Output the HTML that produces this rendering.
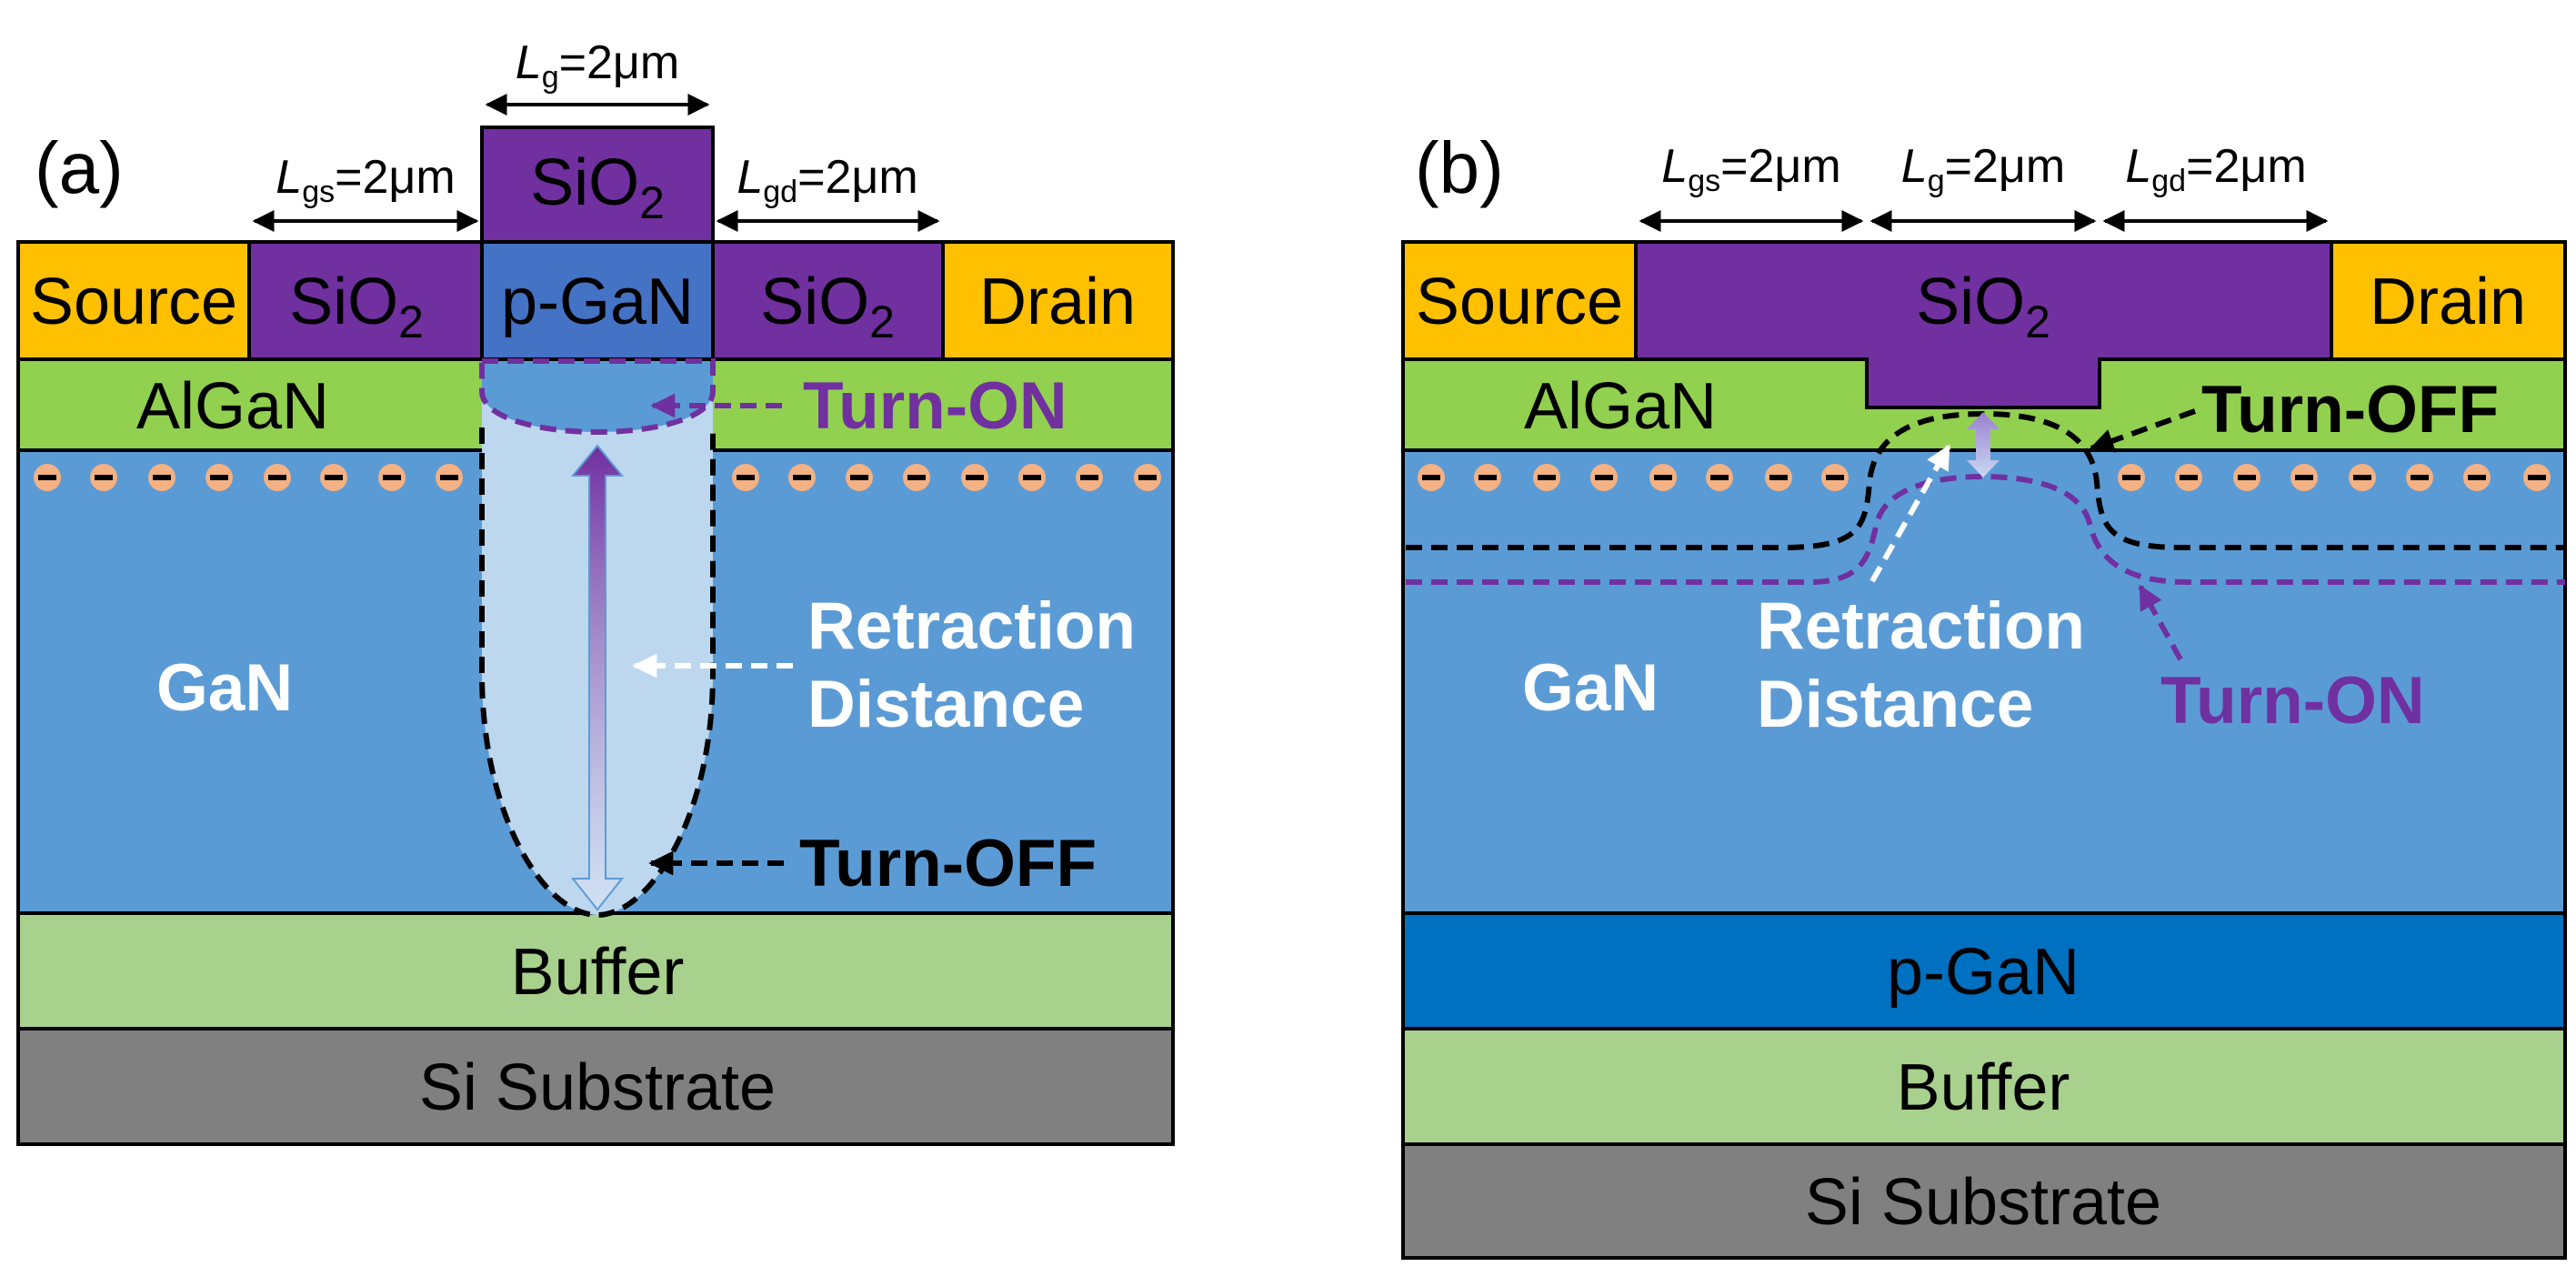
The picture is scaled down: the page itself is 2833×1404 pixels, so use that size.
<!DOCTYPE html>
<html><head><meta charset="utf-8"><style>
html,body{margin:0;padding:0;background:#fff;}
svg{display:block;}
text{font-family:"Liberation Sans","DejaVu Sans",sans-serif;}
</style></head><body>
<svg width="2833" height="1404" viewBox="0 0 2833 1404" xmlns="http://www.w3.org/2000/svg">
<defs>
<marker id="ah" viewBox="0 0 10 10" refX="9" refY="5" markerWidth="6" markerHeight="6" orient="auto-start-reverse"><path d="M0,0 L10,5 L0,10 z" fill="#000"/></marker>
<marker id="ahp" viewBox="0 0 10 10" refX="9" refY="5" markerWidth="4.5" markerHeight="4.5" orient="auto"><path d="M0,0 L10,5 L0,10 z" fill="#7030a0"/></marker>
<marker id="ahk" viewBox="0 0 10 10" refX="9" refY="5" markerWidth="4.5" markerHeight="4.5" orient="auto"><path d="M0,0 L10,5 L0,10 z" fill="#000"/></marker>
<marker id="ahw" viewBox="0 0 10 10" refX="9" refY="5" markerWidth="4.5" markerHeight="4.5" orient="auto"><path d="M0,0 L10,5 L0,10 z" fill="#fff"/></marker>
<linearGradient id="ga" x1="0" y1="0" x2="0" y2="1"><stop offset="0" stop-color="#7030a0"/><stop offset="1" stop-color="#dde8f6" stop-opacity="0.6"/></linearGradient>
<linearGradient id="gb" x1="0" y1="0" x2="0" y2="1"><stop offset="0" stop-color="#9b7fd0"/><stop offset="1" stop-color="#c9d9f0"/></linearGradient>
<g id="e"><circle r="15" fill="#f4b183"/><rect x="-10" y="-3" width="20" height="6" fill="#000"/></g>
</defs>

<!-- ===== Panel (a) ===== -->
<g stroke="#000" stroke-width="4">
<rect x="20" y="266" width="254" height="129" fill="#ffc000"/>
<rect x="274" y="266" width="256" height="129" fill="#7030a0"/>
<rect x="530" y="266" width="254" height="129" fill="#4472c4"/>
<rect x="530" y="140" width="254" height="126" fill="#7030a0"/>
<rect x="784" y="266" width="253" height="129" fill="#7030a0"/>
<rect x="1037" y="266" width="253" height="129" fill="#ffc000"/>
<rect x="20" y="395" width="1270" height="100" fill="#92d050"/>
<rect x="20" y="495" width="1270" height="509" fill="#5b9bd5"/>
<rect x="20" y="1004" width="1270" height="127" fill="#a9d18e"/>
<rect x="20" y="1131" width="1270" height="127" fill="#808080"/>
</g>
<g>
<use href="#e" x="52" y="525"/><use href="#e" x="114" y="525"/><use href="#e" x="178" y="525"/><use href="#e" x="241" y="525"/><use href="#e" x="305" y="525"/><use href="#e" x="367" y="525"/><use href="#e" x="431" y="525"/><use href="#e" x="494" y="525"/>
<use href="#e" x="820" y="525"/><use href="#e" x="882" y="525"/><use href="#e" x="945" y="525"/><use href="#e" x="1008" y="525"/><use href="#e" x="1072" y="525"/><use href="#e" x="1135" y="525"/><use href="#e" x="1198" y="525"/><use href="#e" x="1262" y="525"/>
</g>
<path d="M530,397 L530,740 C530,900 600,1006 657,1006 C714,1006 784,900 784,740 L784,397 Z" fill="#bdd7ee"/>
<path d="M530,397 L784,397 L784,430 C784,460 720,475 657,475 C594,475 530,460 530,430 Z" fill="#5b9bd5"/>
<path d="M530,470 L530,740 C530,900 600,1006 657,1006 C714,1006 784,900 784,740 L784,470" fill="none" stroke="#000" stroke-width="6" stroke-dasharray="18,10"/>
<path d="M530,397 L784,397 L784,430 C784,460 720,475 657,475 C594,475 530,460 530,430 Z" fill="none" stroke="#7030a0" stroke-width="6" stroke-dasharray="18,10"/>
<path d="M657,490 L684,523 L666,523 L666,966 L684,966 L657,1000 L630,966 L648,966 L648,523 L630,523 Z" fill="url(#ga)" stroke="#5b9bd5" stroke-width="2"/>
<g stroke="#000" stroke-width="4" marker-start="url(#ah)" marker-end="url(#ah)">
<line x1="536" y1="115" x2="778" y2="115"/>
<line x1="280" y1="243" x2="524" y2="243"/>
<line x1="790" y1="243" x2="1031" y2="243"/>
</g>
<line x1="860" y1="446" x2="718" y2="446" stroke="#7030a0" stroke-width="6" stroke-dasharray="18,10" marker-end="url(#ahp)"/>
<line x1="872" y1="732" x2="698" y2="732" stroke="#fff" stroke-width="6" stroke-dasharray="18,10" marker-end="url(#ahw)"/>
<line x1="862" y1="949" x2="716" y2="949" stroke="#000" stroke-width="6" stroke-dasharray="18,10" marker-end="url(#ahk)"/>
<text x="38" y="212" font-size="80">(a)</text>
<text x="657" y="86" font-size="52" text-anchor="middle"><tspan font-style="italic">L</tspan><tspan font-size="34" dy="10">g</tspan><tspan dy="-10">=2μm</tspan></text>
<text x="402" y="212" font-size="52" text-anchor="middle"><tspan font-style="italic">L</tspan><tspan font-size="34" dy="10">gs</tspan><tspan dy="-10">=2μm</tspan></text>
<text x="910" y="212" font-size="52" text-anchor="middle"><tspan font-style="italic">L</tspan><tspan font-size="34" dy="10">gd</tspan><tspan dy="-10">=2μm</tspan></text>
<g font-size="72" text-anchor="middle">
<text x="147" y="356">Source</text>
<text x="392" y="356">SiO<tspan font-size="50" dy="15">2</tspan></text>
<text x="657" y="356">p-GaN</text>
<text x="657" y="225">SiO<tspan font-size="50" dy="15">2</tspan></text>
<text x="910" y="356">SiO<tspan font-size="50" dy="15">2</tspan></text>
<text x="1163" y="356">Drain</text>
<text x="256" y="471">AlGaN</text>
<text x="657" y="1093">Buffer</text>
<text x="657" y="1220">Si Substrate</text>
</g>
<g font-size="73" font-weight="bold">
<text x="172" y="781" fill="#fff">GaN</text>
<text x="883" y="471" fill="#7030a0">Turn-ON</text>
<text x="888" y="713" fill="#fff">Retraction</text>
<text x="888" y="799" fill="#fff">Distance</text>
<text x="879" y="974" fill="#000">Turn-OFF</text>
</g>

<!-- ===== Panel (b) ===== -->
<g stroke="#000" stroke-width="4">
<rect x="1543" y="266" width="256" height="129" fill="#ffc000"/>
<rect x="2564" y="266" width="257" height="129" fill="#ffc000"/>
<rect x="1543" y="395" width="1278" height="100" fill="#92d050"/>
<rect x="1543" y="495" width="1278" height="509" fill="#5b9bd5"/>
<rect x="1543" y="1004" width="1278" height="127" fill="#0070c0"/>
<rect x="1543" y="1131" width="1278" height="127" fill="#a9d18e"/>
<rect x="1543" y="1258" width="1278" height="125" fill="#808080"/>
<path d="M1799,266 L2564,266 L2564,395 L2309,395 L2309,448 L2053,448 L2053,395 L1799,395 Z" fill="#7030a0"/>
</g>
<g>
<use href="#e" x="1574" y="525"/><use href="#e" x="1636" y="525"/><use href="#e" x="1701" y="525"/><use href="#e" x="1764" y="525"/><use href="#e" x="1829" y="525"/><use href="#e" x="1891" y="525"/><use href="#e" x="1956" y="525"/><use href="#e" x="2018" y="525"/>
<use href="#e" x="2344" y="525"/><use href="#e" x="2407" y="525"/><use href="#e" x="2471" y="525"/><use href="#e" x="2534" y="525"/><use href="#e" x="2598" y="525"/><use href="#e" x="2661" y="525"/><use href="#e" x="2724" y="525"/><use href="#e" x="2790" y="525"/>
</g>
<path d="M1546,602 L1960,602 C2045,602 2052,580 2056,530 C2062,470 2120,455 2181,455 C2242,455 2300,470 2306,530 C2310,580 2318,602 2400,602 L2821,602" fill="none" stroke="#000" stroke-width="6" stroke-dasharray="18,10"/>
<path d="M1546,640 L1990,640 C2050,640 2056,610 2064,575 C2075,535 2130,524 2181,524 C2232,524 2287,535 2298,575 C2306,610 2330,640 2405,640 L2821,640" fill="none" stroke="#7030a0" stroke-width="6" stroke-dasharray="18,10"/>
<path d="M2181,453 L2199,472 L2189,472 L2189,506 L2199,506 L2181,525 L2163,506 L2173,506 L2173,472 L2163,472 Z" fill="url(#gb)"/>
<line x1="2059" y1="639" x2="2143" y2="491" stroke="#fff" stroke-width="6" stroke-dasharray="18,10" marker-end="url(#ahw)"/>
<line x1="2414" y1="452" x2="2300" y2="493" stroke="#000" stroke-width="6" stroke-dasharray="18,10" marker-end="url(#ahk)"/>
<line x1="2398" y1="725" x2="2354" y2="645" stroke="#7030a0" stroke-width="6" stroke-dasharray="18,10" marker-end="url(#ahp)"/>
<g stroke="#000" stroke-width="4" marker-start="url(#ah)" marker-end="url(#ah)">
<line x1="1805" y1="243" x2="2047" y2="243"/>
<line x1="2059" y1="243" x2="2303" y2="243"/>
<line x1="2315" y1="243" x2="2558" y2="243"/>
</g>
<text x="1556" y="212" font-size="80">(b)</text>
<text x="1926" y="200" font-size="52" text-anchor="middle"><tspan font-style="italic">L</tspan><tspan font-size="34" dy="10">gs</tspan><tspan dy="-10">=2μm</tspan></text>
<text x="2181" y="200" font-size="52" text-anchor="middle"><tspan font-style="italic">L</tspan><tspan font-size="34" dy="10">g</tspan><tspan dy="-10">=2μm</tspan></text>
<text x="2437" y="200" font-size="52" text-anchor="middle"><tspan font-style="italic">L</tspan><tspan font-size="34" dy="10">gd</tspan><tspan dy="-10">=2μm</tspan></text>
<g font-size="72" text-anchor="middle">
<text x="1671" y="356">Source</text>
<text x="2181" y="356">SiO<tspan font-size="50" dy="15">2</tspan></text>
<text x="2692" y="356">Drain</text>
<text x="1782" y="471">AlGaN</text>
<text x="2181" y="1093">p-GaN</text>
<text x="2181" y="1220">Buffer</text>
<text x="2181" y="1346">Si Substrate</text>
</g>
<g font-size="73" font-weight="bold">
<text x="1674" y="781" fill="#fff">GaN</text>
<text x="1932" y="713" fill="#fff">Retraction</text>
<text x="1932" y="799" fill="#fff">Distance</text>
<text x="2421" y="475" fill="#000">Turn-OFF</text>
<text x="2376" y="795" fill="#7030a0">Turn-ON</text>
</g>
</svg>
</body></html>
